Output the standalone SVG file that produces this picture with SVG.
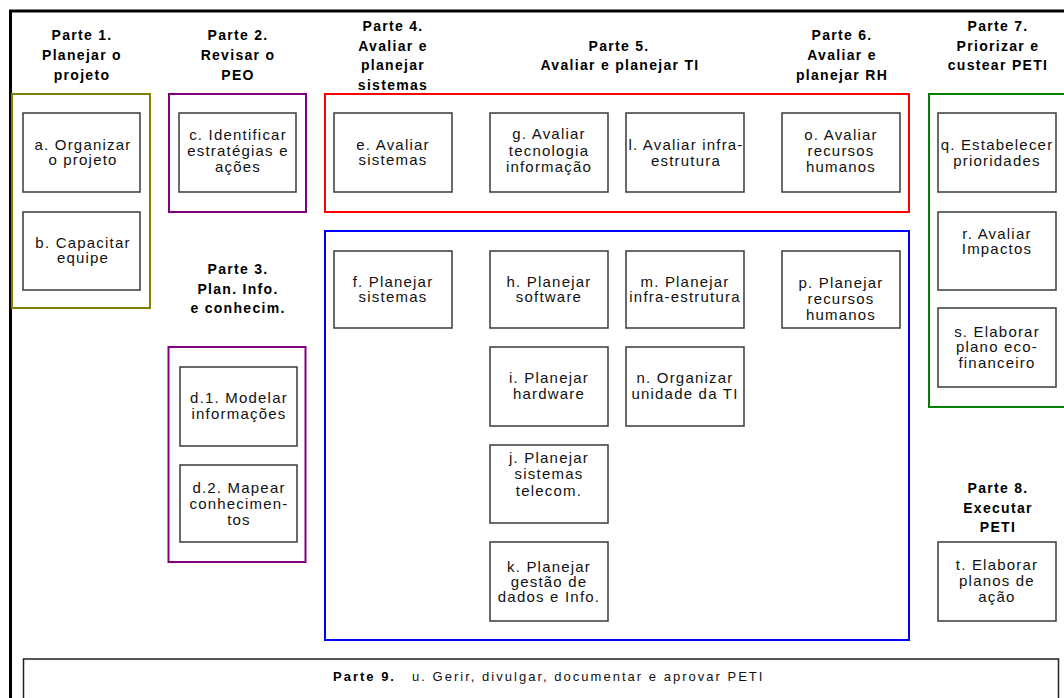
<svg xmlns="http://www.w3.org/2000/svg" width="1064" height="698" viewBox="0 0 1064 698">
<style>
.hd{font-family:"Liberation Sans",Arial,sans-serif;font-size:14px;font-weight:bold;letter-spacing:1.3px;text-anchor:middle;fill:#000}
.tx{font-family:"Liberation Sans",Arial,sans-serif;font-size:15px;letter-spacing:1.2px;text-anchor:middle;fill:#111}
.bx{fill:#fff;stroke:#3a3a3a;stroke-width:1.5}
.grp{fill:none;stroke-width:2}
</style>
<rect width="1064" height="698" fill="#fff"/>
<g id="frame">
<line x1="10.5" y1="11" x2="10.5" y2="698" stroke="#000" stroke-width="3"/>
<line x1="9" y1="11" x2="1064" y2="11" stroke="#000" stroke-width="3"/>
</g>
<g id="groups">
<rect class="grp" x="12" y="94" width="138" height="214" stroke="#808000"/>
<rect class="grp" x="169" y="94" width="137" height="118" stroke="#800080"/>
<rect class="grp" x="168.5" y="347" width="137" height="215" stroke="#800080"/>
<rect class="grp" x="325" y="94" width="584" height="118" stroke="#ff0000"/>
<rect class="grp" x="325" y="231" width="584" height="409" stroke="#0000ff"/>
<rect class="grp" x="929" y="94" width="140" height="313" stroke="#008000"/>
</g>
<g id="headers">
<text class="hd" x="82" y="40">Parte 1.</text><text class="hd" x="82" y="60">Planejar o</text><text class="hd" x="82" y="80">projeto</text>
<text class="hd" x="238" y="40">Parte 2.</text><text class="hd" x="238" y="60">Revisar o</text><text class="hd" x="238" y="80">PEO</text>
<text class="hd" x="238" y="274">Parte 3.</text><text class="hd" x="238" y="294">Plan. Info.</text><text class="hd" x="238" y="313">e conhecim.</text>
<text class="hd" x="393" y="31">Parte 4.</text><text class="hd" x="393" y="51">Avaliar e</text><text class="hd" x="393" y="70">planejar</text><text class="hd" x="393" y="90">sistemas</text>
<text class="hd" x="619" y="51">Parte 5.</text><text class="hd" x="620" y="70">Avaliar e planejar TI</text>
<text class="hd" x="842" y="40">Parte 6.</text><text class="hd" x="842" y="60">Avaliar e</text><text class="hd" x="842" y="80">planejar RH</text>
<text class="hd" x="998" y="31">Parte 7.</text><text class="hd" x="998" y="51">Priorizar e</text><text class="hd" x="998" y="70">custear PETI</text>
<text class="hd" x="998" y="493">Parte 8.</text><text class="hd" x="998" y="513">Executar</text><text class="hd" x="998" y="532">PETI</text>
</g>
<g id="node-a"><rect class="bx" x="23" y="113" width="117" height="79"/><text class="tx" x="83" y="150">a. Organizar</text><text class="tx" x="83" y="165">o projeto</text></g>
<g id="node-b"><rect class="bx" x="23" y="212" width="117" height="78"/><text class="tx" x="83" y="248">b. Capacitar</text><text class="tx" x="83" y="263">equipe</text></g>
<g id="node-c"><rect class="bx" x="179" y="113" width="117" height="79"/><text class="tx" x="238" y="140">c. Identificar</text><text class="tx" x="238" y="156">estratégias e</text><text class="tx" x="238" y="172">ações</text></g>
<g id="node-d1"><rect class="bx" x="180" y="367" width="117" height="79"/><text class="tx" x="239" y="403">d.1. Modelar</text><text class="tx" x="239" y="419">informações</text></g>
<g id="node-d2"><rect class="bx" x="180" y="465" width="117" height="77"/><text class="tx" x="239" y="493">d.2. Mapear</text><text class="tx" x="239" y="509">conhecimen-</text><text class="tx" x="239" y="525">tos</text></g>
<g id="node-e"><rect class="bx" x="334" y="113" width="118" height="79"/><text class="tx" x="393" y="150">e. Avaliar</text><text class="tx" x="393" y="165">sistemas</text></g>
<g id="node-f"><rect class="bx" x="334" y="251" width="118" height="77"/><text class="tx" x="393" y="287">f. Planejar</text><text class="tx" x="393" y="302">sistemas</text></g>
<g id="node-g"><rect class="bx" x="490" y="113" width="118" height="79"/><text class="tx" x="549" y="139">g. Avaliar</text><text class="tx" x="549" y="156">tecnologia</text><text class="tx" x="549" y="172">informação</text></g>
<g id="node-h"><rect class="bx" x="490" y="251" width="118" height="77"/><text class="tx" x="549" y="287">h. Planejar</text><text class="tx" x="549" y="302">software</text></g>
<g id="node-i"><rect class="bx" x="490" y="347" width="118" height="79"/><text class="tx" x="549" y="383">i. Planejar</text><text class="tx" x="549" y="399">hardware</text></g>
<g id="node-j"><rect class="bx" x="490" y="445" width="118" height="78"/><text class="tx" x="549" y="463">j. Planejar</text><text class="tx" x="549" y="479">sistemas</text><text class="tx" x="549" y="496">telecom.</text></g>
<g id="node-k"><rect class="bx" x="490" y="542" width="118" height="79"/><text class="tx" x="549" y="572">k. Planejar</text><text class="tx" x="549" y="587">gestão de</text><text class="tx" x="549" y="602">dados e Info.</text></g>
<g id="node-l"><rect class="bx" x="626" y="113" width="118" height="79"/><text class="tx" x="686" y="150">l. Avaliar infra-</text><text class="tx" x="686" y="166">estrutura</text></g>
<g id="node-m"><rect class="bx" x="626" y="251" width="118" height="77"/><text class="tx" x="685" y="287">m. Planejar</text><text class="tx" x="685" y="302">infra-estrutura</text></g>
<g id="node-n"><rect class="bx" x="626" y="347" width="118" height="79"/><text class="tx" x="685" y="383">n. Organizar</text><text class="tx" x="685" y="399">unidade da TI</text></g>
<g id="node-o"><rect class="bx" x="782" y="113" width="118" height="79"/><text class="tx" x="841" y="140">o. Avaliar</text><text class="tx" x="841" y="156">recursos</text><text class="tx" x="841" y="172">humanos</text></g>
<g id="node-p"><rect class="bx" x="782" y="251" width="118" height="77"/><text class="tx" x="841" y="288">p. Planejar</text><text class="tx" x="841" y="304">recursos</text><text class="tx" x="841" y="320">humanos</text></g>
<g id="node-q"><rect class="bx" x="938" y="113" width="118" height="79"/><text class="tx" x="997" y="150">q. Estabelecer</text><text class="tx" x="997" y="166">prioridades</text></g>
<g id="node-r"><rect class="bx" x="938" y="212" width="118" height="78"/><text class="tx" x="997" y="239">r. Avaliar</text><text class="tx" x="997" y="254">Impactos</text></g>
<g id="node-s"><rect class="bx" x="938" y="308" width="118" height="79"/><text class="tx" x="997" y="337">s. Elaborar</text><text class="tx" x="997" y="352">plano eco-</text><text class="tx" x="997" y="368">financeiro</text></g>
<g id="node-t"><rect class="bx" x="938" y="542" width="118" height="79"/><text class="tx" x="997" y="570">t. Elaborar</text><text class="tx" x="997" y="586">planos de</text><text class="tx" x="997" y="602">ação</text></g>
<g id="node-u"><rect x="23.5" y="659" width="1035" height="50" fill="#fff" stroke="#222" stroke-width="1.5"/>
<text x="333" y="681" font-family="Liberation Sans, Arial, sans-serif" font-size="13" font-weight="bold" letter-spacing="2" fill="#000">Parte 9.</text>
<text x="412" y="681" font-family="Liberation Sans, Arial, sans-serif" font-size="13" letter-spacing="2.02" fill="#111">u. Gerir, divulgar, documentar e aprovar PETI</text></g>
<g id="connectors"/>
</svg>
